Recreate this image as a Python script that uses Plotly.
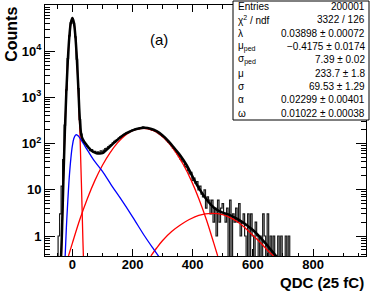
import plotly.graph_objects as go

# ---------------- data ----------------
bin_width = 5
first_center = -45
counts = [
    1, 3, 12, 45, 250, 1450, 6900, 21500, 41000, 50500,          # -45 .. 0
    40000, 20500, 6700, 1550, 330, 160, 118, 104, 96, 88,        # 5 .. 50
    80, 70, 74, 66, 68, 63, 66, 62, 70, 66,                      # 55 .. 100
    72, 78, 80, 86, 92, 95, 104, 112, 118, 122,                  # 105 .. 150
    132, 140, 146, 150, 160, 168, 170, 182, 186, 196,            # 155 .. 200
    200, 205, 212, 208, 220, 214, 230, 218, 216, 214,            # 205 .. 250
    208, 205, 196, 195, 184, 178, 170, 162, 155, 144,            # 255 .. 300
    136, 128, 116, 106, 100, 90, 80, 74, 66, 60,                 # 305 .. 350
    52, 46, 42, 40, 32, 30, 26, 22, 24, 16,                      # 355 .. 400
    18, 14, 15, 10, 12, 8, 7, 10, 4, 7,                          # 405 .. 450
    6, 3, 6, 2, 4, 1, 6, 2, 4, 5,                                # 455 .. 500
    3, 2, 4, 0, 6, 0, 3, 2, 4, 2,                                # 505 .. 550
    5, 1, 2, 3, 1, 0, 3, 0, 3, 1,                                # 555 .. 600
    0, 2, 1, 0, 1, 0, 3, 1, 0, 3,                                # 605 .. 650
    0, 1, 0, 1, 0, 0, 1, 0, 1, 0,                                # 655 .. 700
    0, 1, 0, 1,                                                  # 705 .. 720
]

total_x = [-38, -35, -30, -25, -20, -15, -10, -5, 0, 5, 10, 15, 20, 25, 30, 35, 40,
           50, 60, 70, 80, 90, 100, 110, 120, 140, 160, 180, 200, 220, 240, 260,
           280, 300, 320, 340, 360, 380, 400, 420, 440, 460, 480, 500, 520, 540,
           560, 580, 600, 620, 640, 660, 680]
total_y = [0.3, 1.0, 15, 185, 1355, 6610, 20820, 41350, 51990, 41440, 20960, 6760,
           1500, 320, 150, 122, 108, 88, 74, 66, 62, 61, 62, 70, 80, 106, 138, 168,
           194, 212, 219, 210, 186, 150, 112, 78, 54, 34, 19, 11, 7.0, 4.8, 3.7,
           3.2, 2.9, 2.5, 2.1, 1.7, 1.35, 1.0, 0.72, 0.5, 0.35]

ped_x = [-37, -35, -30, -25, -20, -15, -10, -5, 0, 5, 10, 15, 20, 25, 30, 35, 37]
ped_y = [0.3, 0.8, 14, 180, 1350, 6600, 20800, 41300, 51900, 41300, 20800, 6600,
         1350, 180, 14, 0.8, 0.3]

pe1_x = [-13, 0, 25, 50, 75, 100, 125, 150, 175, 200, 235, 270, 295, 320, 345,
         370, 395, 420, 445, 470, 483]
pe1_y = [0.37, 0.7, 2.3, 6.5, 16, 34, 63, 104, 150, 190, 214, 190, 150, 104, 63,
         34, 16, 6.5, 2.3, 0.7, 0.37]

pe2_x = [261, 280, 300, 330, 360, 390, 420, 463, 500, 530, 560, 590, 620, 650, 673]
pe2_y = [0.37, 0.55, 0.8, 1.25, 1.75, 2.3, 2.8, 3.1, 2.9, 2.4, 1.8, 1.2, 0.78, 0.48, 0.35]

bkg_x = [-24, -20, -15, -10, -5, 0, 5, 10, 15, 20, 30, 40, 50, 70, 100, 130, 160,
         200, 240, 270, 290]
bkg_y = [0.37, 1.5, 6, 20, 48, 90, 130, 152, 155, 145, 118, 92, 72, 45, 25, 12.5,
         6.5, 2.6, 1.0, 0.52, 0.34]

x_ticks = [0, 200, 400, 600, 800]
y_ticks = [1, 10, 100, 1000, 10000, 100000]
y_ticktext = ["1", "10", "10<sup>2</sup>", "10<sup>3</sup>", "10<sup>4</sup>", "10<sup>5</sup>"]

stat_labels = ["Entries", "χ<sup>2</sup> / ndf", "λ", "μ<sub>ped</sub>", "σ<sub>ped</sub>",
               "μ", "σ", "α", "ω"]
stat_values = ["200001", "3322 / 126", "0.03898 ± 0.00072", "−0.4175 ± 0.0174",
               "7.39 ± 0.02", "233.7 ± 1.8", "69.53 ± 1.29", "0.02299 ± 0.00401",
               "0.01022 ± 0.00038"]

# ---------------- figure ----------------
X0, X1 = -91, 976
YLOG0, YLOG1 = -0.433, 5.0
FLOOR = 0.05  # empty bins drawn down to the frame bottom

hx, hy = [], []
for i, c in enumerate(counts):
    lo = first_center + i * bin_width - bin_width / 2
    v = c if c > 0 else FLOOR
    hx += [lo, lo + bin_width]
    hy += [v, v]
hx = [hx[0]] + hx + [hx[-1]]
hy = [FLOOR] + hy + [FLOOR]

fig = go.Figure()
fig.add_trace(go.Scatter(x=hx, y=hy, mode="lines",
                         line=dict(color="#1a1a1a", width=1.2), hoverinfo="skip"))
fig.add_trace(go.Scatter(x=ped_x, y=ped_y, mode="lines", line_shape="spline",
                         line=dict(color="#ff0000", width=1.3)))
fig.add_trace(go.Scatter(x=pe1_x, y=pe1_y, mode="lines", line_shape="spline",
                         line=dict(color="#ff0000", width=1.3)))
fig.add_trace(go.Scatter(x=pe2_x, y=pe2_y, mode="lines", line_shape="spline",
                         line=dict(color="#ff0000", width=1.3)))
fig.add_trace(go.Scatter(x=bkg_x, y=bkg_y, mode="lines", line_shape="spline",
                         line=dict(color="#0000ff", width=1.3)))
fig.add_trace(go.Scatter(x=total_x, y=total_y, mode="lines", line_shape="spline",
                         line=dict(color="#000000", width=2.5)))

minor_x = [v for v in range(-50, 976, 50) if v % 200 != 0]
minor_y = [m * 10 ** e for e in range(-1, 5) for m in range(2, 10)]
minor_y = [v for v in minor_y if v > 10 ** YLOG0]

tickfont = dict(family="Liberation Sans", size=13, color="black", weight="bold")
fig.update_layout(
    width=374, height=292,
    margin=dict(l=45, r=8, t=5, b=36),
    paper_bgcolor="white", plot_bgcolor="white",
    showlegend=False,
    font=dict(family="Liberation Sans", color="black"),
    xaxis=dict(range=[X0, X1], tickmode="array", tickvals=x_ticks,
               ticks="inside", ticklen=7, tickcolor="black", tickwidth=1,
               showline=True, linecolor="black", linewidth=1, mirror="ticks",
               showgrid=False, zeroline=False, tickfont=tickfont,
               ticklabelstandoff=-4,
               minor=dict(tickmode="array", tickvals=minor_x, ticks="inside",
                          ticklen=3.5, tickcolor="black", showgrid=False)),
    yaxis=dict(type="log", range=[YLOG0, YLOG1], tickmode="array",
               tickvals=y_ticks, ticktext=y_ticktext,
               ticks="inside", ticklen=10, tickcolor="black", tickwidth=1,
               showline=True, linecolor="black", linewidth=1, mirror="ticks",
               showgrid=False, zeroline=False, tickfont=tickfont,
               minor=dict(tickmode="array", tickvals=minor_y, ticks="inside",
                          ticklen=5, tickcolor="black", showgrid=False)),
)

# axis titles
fig.add_annotation(text="<b>QDC (25 fC)</b>", xref="paper", yref="paper",
                   x=1.0, y=-0.104, xanchor="right", yanchor="middle",
                   showarrow=False, font=dict(size=15, family="Liberation Sans"))
fig.add_annotation(text="<b>Counts</b>", xref="paper", yref="paper",
                   x=-0.105, y=1.0, xanchor="center", yanchor="top", textangle=-90,
                   showarrow=False, font=dict(size=16, family="Liberation Sans"))
fig.add_annotation(text="(a)", xref="paper", yref="paper", x=0.355, y=0.861,
                   xanchor="center", yanchor="middle", showarrow=False,
                   font=dict(size=15, family="Liberation Sans"))

# stats box
PW, PH = 321.0, 251.0
def px_x(p):
    return (p - 45) / PW
def px_y(p):
    return (256 - p) / PH

fig.add_shape(type="rect", xref="paper", yref="paper",
              x0=px_x(233), x1=px_x(369), y0=px_y(120), y1=px_y(1),
              fillcolor="white", line=dict(color="black", width=1), layer="above")
for i, (lab, val) in enumerate(zip(stat_labels, stat_values)):
    yc = px_y(6.7 + i * 13.3)
    fig.add_annotation(text=lab, xref="paper", yref="paper", x=px_x(235.5), y=yc,
                       xanchor="left", yanchor="middle", showarrow=False,
                       font=dict(size=10, family="Liberation Sans"))
    fig.add_annotation(text=val, xref="paper", yref="paper", x=px_x(366.5), y=yc,
                       xanchor="right", yanchor="middle", showarrow=False,
                       font=dict(size=10, family="Liberation Sans"))

fig.write_html("out.html", config={"displayModeBar": False},
               post_script="document.body.style.margin='0px';document.body.style.overflow='hidden';")
